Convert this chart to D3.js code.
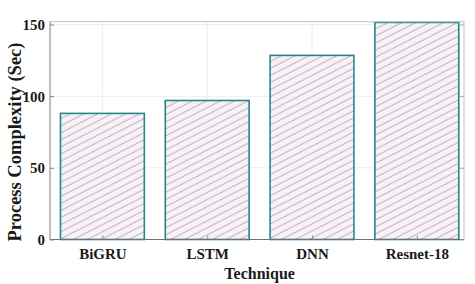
<!DOCTYPE html>
<html>
<head>
<meta charset="utf-8">
<script src="https://cdn.jsdelivr.net/npm/d3@7"></script>
<style>
  html, body { margin: 0; padding: 0; background: #fff; }
  svg { display: block; }
  text { font-family: "Liberation Serif", "Times New Roman", serif; font-weight: bold; fill: #1a1a1a; }
</style>
</head>
<body>
<svg id="chart" width="475" height="284"></svg>
<script>
const categories = ["BiGRU", "LSTM", "DNN", "Resnet-18"];
const values = [88, 97, 128.5, 151.5];
const yTicks = [0, 50, 100, 150];
const xLabel = "Technique";
const yLabel = "Process Complexity (Sec)";

const W = 475, H = 284;
const m = { left: 50, right: 11, top: 21.7, bottom: 44.5 };
const svg = d3.select("#chart");
const pw = W - m.left - m.right, ph = H - m.top - m.bottom;

const defs = svg.append("defs");
const pat = defs.append("pattern")
  .attr("id", "hatch").attr("patternUnits", "userSpaceOnUse")
  .attr("width", 6.3).attr("height", 6.3)
  .attr("patternTransform", "rotate(-27)");
pat.append("rect").attr("width", 6.3).attr("height", 6.3).attr("fill", "#f8f1f7");
pat.append("line").attr("x1", 0).attr("x2", 6.3).attr("y1", 3).attr("y2", 3)
  .attr("stroke", "#ada5ad").attr("stroke-width", 0.8);

const g = svg.append("g").attr("transform", `translate(${m.left},${m.top})`);

const x = d3.scaleLinear().domain([0.5, 4.45]).range([0, pw]);
const y = d3.scaleLinear().domain([0, 152]).range([ph, 0]);

// grid
g.append("g").selectAll("line").data(yTicks).join("line")
  .attr("x1", 0).attr("x2", pw).attr("y1", d => y(d)).attr("y2", d => y(d))
  .attr("stroke", "#ececec").attr("stroke-width", 1);
g.append("g").selectAll("line").data(categories).join("line")
  .attr("x1", (d, i) => x(i + 1)).attr("x2", (d, i) => x(i + 1))
  .attr("y1", 0).attr("y2", ph)
  .attr("stroke", "#ececec").attr("stroke-width", 1);

// bars
const bw = x(1.8) - x(1);
g.append("g").selectAll("rect").data(values).join("rect")
  .attr("x", (d, i) => x(i + 1) - bw / 2)
  .attr("width", bw)
  .attr("y", d => y(d))
  .attr("height", d => y(0) - y(d))
  .attr("fill", "url(#hatch)")
  .attr("stroke", "#24878a").attr("stroke-width", 1.6);

// frame
g.append("rect").attr("x", 0).attr("y", 0).attr("width", pw).attr("height", ph)
  .attr("fill", "none").attr("stroke", "#c4c4c4").attr("stroke-width", 1);
g.append("line").attr("x1", 0).attr("x2", pw).attr("y1", ph).attr("y2", ph)
  .attr("stroke", "#6f6f6f").attr("stroke-width", 1);
g.append("line").attr("x1", 0).attr("x2", 0).attr("y1", 0).attr("y2", ph)
  .attr("stroke", "#9a9a9a").attr("stroke-width", 1);

// axes
const yAxis = d3.axisLeft(y).tickValues(yTicks).tickSize(-4).tickPadding(5);
const ya = g.append("g").call(yAxis);
ya.select(".domain").remove();
ya.selectAll("line").attr("stroke", "#888");
ya.selectAll("text").style("font-size", "15px").attr("fill", "#1a1a1a")
  .style("font-family", "'Liberation Serif', serif").style("font-weight", "bold");

const yAxisR = d3.axisRight(y).tickValues(yTicks).tickSize(-4).tickFormat("");
const yr = g.append("g").attr("transform", `translate(${pw},0)`).call(yAxisR);
yr.select(".domain").remove();
yr.selectAll("line").attr("stroke", "#aaa");

const xAxis = d3.axisBottom(x).tickValues([1, 2, 3, 4])
  .tickFormat((d) => categories[d - 1]).tickSize(-4).tickPadding(9);
const xa = g.append("g").attr("transform", `translate(0,${ph})`).call(xAxis);
xa.select(".domain").remove();
xa.selectAll("line").attr("stroke", "#888");
xa.selectAll("text").style("font-size", "15px").attr("fill", "#1a1a1a")
  .style("font-family", "'Liberation Serif', serif").style("font-weight", "bold");

// axis titles
svg.append("text").attr("x", m.left + x(2.5)).attr("y", 279)
  .attr("text-anchor", "middle").style("font-size", "16px").text(xLabel);
svg.append("text").attr("transform", "translate(21,142) rotate(-90)")
  .attr("text-anchor", "middle").style("font-size", "18.5px").text(yLabel);
</script>
</body>
</html>
